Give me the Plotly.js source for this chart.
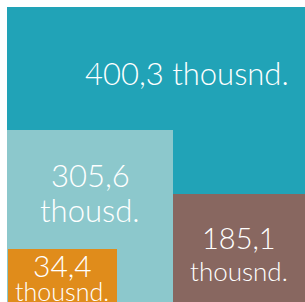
<!DOCTYPE html>
<html><head><meta charset="utf-8">
<script src="https://cdn.plot.ly/plotly-3.0.1.min.js"></script>
<style>html,body{margin:0;padding:0;background:#fff;}#chart{width:305px;height:302px;}</style>
</head><body><div id="chart"></div>
<script>
// Data
const categories = ['A', 'B', 'C', 'D'];
const values = [400.3, 305.6, 185.1, 34.4];
const valueLabels = ['400,3', '305,6', '185,1', '34,4'];
const unitLabels = ['thousnd.', 'thousd.', 'thousnd.', 'thousnd.'];

// Layout geometry (chart units) for each box: left, right, height
const boxLeft = [7, 7, 173, 8];
const boxRight = [305, 173, 305, 117];
const boxTop = [295, 172, 108, 53];
const colors = ['#21a3b7', '#8cc8cc', '#886760', '#e08c1b'];

const centers = boxLeft.map((l, i) => (l + boxRight[i]) / 2);
const widths = boxLeft.map((l, i) => boxRight[i] - l);

const trace = {
  type: 'bar', x: centers, y: boxTop, width: widths, base: 0,
  marker: {color: colors, line: {width: 0}},
  customdata: values, text: categories, textposition: 'none', hoverinfo: 'skip'
};

const font = 'Lato, "Open Sans", sans-serif';
const labelPos = [
  {x: 187, y1: 229, y2: null, s1: 31, s2: 31, oneLine: true},
  {x: 90, y1: 127, y2: 92, s1: 31, s2: 31},
  {x: 239, y1: 65, y2: 31, s1: 29, s2: 26},
  {x: 62, y1: 37, y2: 11, s1: 30, s2: 25}
];
const annotations = [];
labelPos.forEach((p, i) => {
  if (p.oneLine) {
    annotations.push({x: p.x, y: p.y1, xref: 'x', yref: 'y', showarrow: false,
      text: valueLabels[i] + ' ' + unitLabels[i], font: {family: font, size: p.s1, color: '#fff', weight: 300}});
  } else {
    annotations.push({x: p.x, y: p.y1, xref: 'x', yref: 'y', showarrow: false,
      text: valueLabels[i], font: {family: font, size: p.s1, color: '#fff', weight: 300}});
    annotations.push({x: p.x, y: p.y2, xref: 'x', yref: 'y', showarrow: false,
      text: unitLabels[i], font: {family: font, size: p.s2, color: '#fff', weight: 300}});
  }
});

Plotly.newPlot('chart', [trace], {
  width: 305, height: 302,
  margin: {l: 0, r: 0, t: 0, b: 0},
  paper_bgcolor: '#fff', plot_bgcolor: '#fff',
  barmode: 'overlay', showlegend: false,
  xaxis: {range: [0, 305], visible: false, fixedrange: true},
  yaxis: {range: [0, 302], visible: false, fixedrange: true},
  annotations: annotations
}, {staticPlot: true, displayModeBar: false});
</script></body></html>
